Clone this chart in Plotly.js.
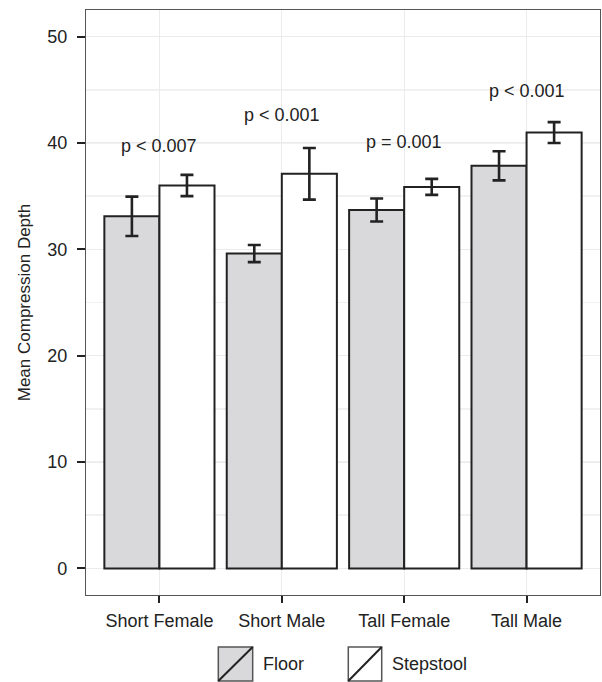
<!DOCTYPE html>
<html>
<head>
<meta charset="utf-8">
<script src="https://cdn.plot.ly/plotly-3.0.1.min.js"></script>
<style>html,body{margin:0;padding:0;background:#fff;}#chart{width:602px;height:682px;}</style>
</head>
<body>
<div id="chart"></div>
<script>
const categories = ["Short Female", "Short Male", "Tall Female", "Tall Male"];
const floorMeans = [33.1, 29.6, 33.7, 37.85];
const floorErr = [1.85, 0.8, 1.08, 1.37];
const stepMeans = [36.0, 37.1, 35.87, 40.98];
const stepErr = [1.0, 2.43, 0.75, 0.98];
const pLabels = ["p < 0.007", "p < 0.001", "p = 0.001", "p < 0.001"];
const pLabelY = [39.7, 42.6, 40.1, 44.9];
const seriesNames = ["Floor", "Stepstool"];
const yTicks = [0, 10, 20, 30, 40, 50];

const FONT = "Liberation Sans, Arial, Helvetica, sans-serif";
const INK = "#222222";

const errStyle = (arr) => ({type: "data", array: arr, visible: true, color: INK, thickness: 2.6, width: 6.5});

const traces = [
  {type: "bar", name: seriesNames[0], x: categories, y: floorMeans,
   marker: {color: "#d9d9db", line: {color: INK, width: 2}},
   error_y: errStyle(floorErr), showlegend: false, hoverinfo: "skip"},
  {type: "bar", name: seriesNames[1], x: categories, y: stepMeans,
   marker: {color: "#ffffff", line: {color: INK, width: 2}},
   error_y: errStyle(stepErr), showlegend: false, hoverinfo: "skip"}
];

const annotations = categories.map((c, i) => ({
  x: c, y: pLabelY[i], xref: "x", yref: "y", text: pLabels[i], showarrow: false,
  font: {family: FONT, size: 18, color: INK}, xanchor: "center", yanchor: "middle"
}));

// legend (drawn manually to mimic ggplot keys)
const legendKeys = [
  {x0: 0.2574, x1: 0.3243, fill: "#d9d9db", tx: 0.3405},
  {x0: 0.5103, x1: 0.5753, fill: "#ffffff", tx: 0.5914}
];
const ky0 = -0.147, ky1 = -0.0889;
const shapes = [];
legendKeys.forEach((k, i) => {
  shapes.push({type: "rect", xref: "paper", yref: "paper", x0: k.x0, x1: k.x1, y0: ky0, y1: ky1,
    fillcolor: k.fill, line: {color: "#555555", width: 1.5}, layer: "above"});
  shapes.push({type: "line", xref: "paper", yref: "paper", x0: k.x0, x1: k.x1, y0: ky0, y1: ky1,
    line: {color: INK, width: 2}, layer: "above"});
  annotations.push({xref: "paper", yref: "paper", x: k.tx, y: (ky0 + ky1) / 2, text: seriesNames[i],
    showarrow: false, xanchor: "left", yanchor: "middle", font: {family: FONT, size: 18, color: INK}});
});

const layout = {
  width: 602, height: 682,
  margin: {l: 86, r: 2, t: 10, b: 87},
  paper_bgcolor: "#ffffff", plot_bgcolor: "#ffffff",
  barmode: "group", bargap: 0.1, bargroupgap: 0,
  font: {family: FONT, size: 18, color: INK},
  showlegend: false,
  xaxis: {
    type: "category", range: [-0.6, 3.6], fixedrange: true,
    showgrid: true, gridcolor: "#ebebeb", gridwidth: 1,
    showline: true, linecolor: "#555555", linewidth: 1.2, mirror: true,
    ticks: "outside", ticklen: 7, tickwidth: 2, tickcolor: INK,
    ticklabelstandoff: 2,
    tickfont: {family: FONT, size: 18, color: INK}, zeroline: false
  },
  yaxis: {
    range: [-2.5, 52.5], fixedrange: true, tickvals: yTicks, ticktext: yTicks.map(String),
    showgrid: true, gridcolor: "#ebebeb", gridwidth: 1,
    minor: {dtick: 5, tick0: 0, showgrid: true, gridcolor: "#f1f1f1", gridwidth: 1.5, ticks: ""},
    showline: true, linecolor: "#555555", linewidth: 1.2, mirror: true,
    ticks: "outside", ticklen: 8, tickwidth: 2, tickcolor: INK,
    ticklabelstandoff: 6,
    tickfont: {family: FONT, size: 18, color: INK}, zeroline: false,
    title: {text: "Mean Compression Depth", font: {family: FONT, size: 17, color: INK}, standoff: 12}
  },
  annotations: annotations,
  shapes: shapes
};

Plotly.newPlot("chart", traces, layout, {staticPlot: true, displayModeBar: false});
</script>
</body>
</html>
